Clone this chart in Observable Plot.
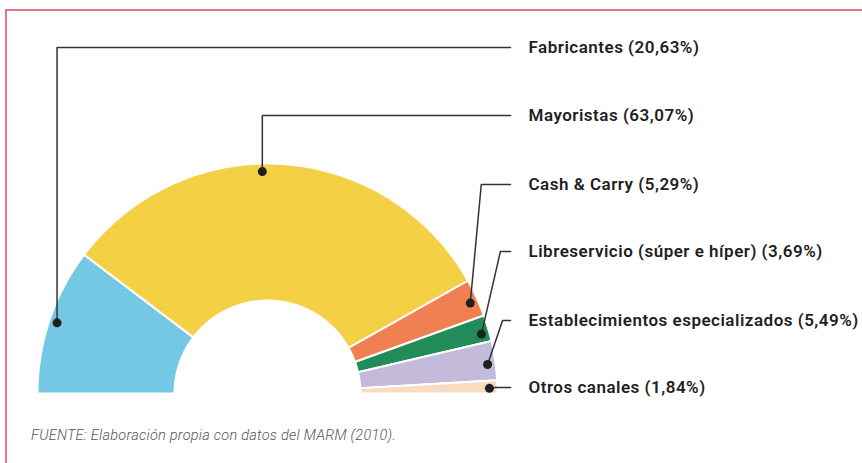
<!DOCTYPE html>
<html>
<head>
<meta charset="utf-8">
<script src="https://cdn.jsdelivr.net/npm/d3@7"></script>
<script src="https://cdn.jsdelivr.net/npm/@observablehq/plot@0.6"></script>
<style>
  html, body { margin: 0; padding: 0; background: #fff; overflow: hidden; }
  #wrap { position: relative; width: 862px; height: 463px; }
  #frame { position: absolute; left: 5px; top: 9px; width: 900px; height: 500px; border: 2px solid #E07984; box-sizing: border-box; pointer-events: none; }
  #caption { position: absolute; left: 31px; top: 427px; font-family: Roboto, sans-serif; font-style: italic; font-weight: 300; font-size: 14.5px; letter-spacing: 0.25px; color: #555; white-space: nowrap; }
</style>
</head>
<body>
<div id="wrap">
  <div id="chart"></div>
  <div id="frame"></div>
  <div id="caption">FUENTE: Elaboración propia con datos del MARM (2010).</div>
</div>
<script>
// ---- data ----
const categories = ["Fabricantes", "Mayoristas", "Cash & Carry", "Libreservicio (súper e híper)", "Establecimientos especializados", "Otros canales"];
const shares = [20.63, 63.07, 5.29, 3.69, 5.49, 1.84];
const colors = ["#75C8E4", "#F4D044", "#F08052", "#228B5A", "#C4BBDB", "#F7DCC1"];

// ---- layout (pixels) ----
const W = 862, H = 463;
const CX = 267, CY = 393, R = 230, R0 = 93;
const labelYpx = [47, 115, 184, 251, 320, 387];
const elbowDxPx = [0, 0, 11, 19, 15, 0];
const dotFrac = [0.5, 0.454, 0.56, 0.65, 0.575, 0.6];
const lineEndXpx = 510, labelXpx = 528, dotRpx = 222;

const total = d3.sum(shares);
const toDX = px => (px - CX) / R;   // pixel -> data units
const toDY = py => (CY - py) / R;
const rIn = R0 / R, rDot = dotRpx / R;

// slice polygons
const slices = [];
let cum = 0;
shares.forEach((v, i) => {
  const a0 = Math.PI - Math.PI * cum / total;
  cum += v;
  const a1 = Math.PI - Math.PI * cum / total;
  const n = Math.max(2, Math.ceil(Math.abs(a0 - a1) / (Math.PI / 360)));
  const pts = [];
  for (let k = 0; k <= n; k++) { const a = a0 + (a1 - a0) * k / n; pts.push({x: Math.cos(a), y: Math.sin(a)}); }
  for (let k = n; k >= 0; k--) { const a = a0 + (a1 - a0) * k / n; pts.push({x: rIn * Math.cos(a), y: rIn * Math.sin(a)}); }
  pts.push(pts[0]);
  const mid = a0 + (a1 - a0) * dotFrac[i];
  slices.push({cat: categories[i], value: v, color: colors[i], pts, mid,
    dot: {x: rDot * Math.cos(mid), y: rDot * Math.sin(mid)}});
});

const fmt = v => v.toFixed(2).replace(".", ",") + "%";

const leaders = slices.map((s, i) => {
  const ly = toDY(labelYpx[i]);
  const ex = s.dot.x + elbowDxPx[i] / R;
  return [s.dot, {x: ex, y: ly}, {x: toDX(lineEndXpx), y: ly}];
});

const labels = slices.map((s, i) => ({x: toDX(labelXpx), y: toDY(labelYpx[i]), text: `${s.cat} (${fmt(s.value)})`}));

const marks = [];
slices.forEach(s => marks.push(Plot.line(s.pts, {x: "x", y: "y", fill: s.color, stroke: "white", strokeWidth: 2, curve: "linear"})));
leaders.forEach(l => marks.push(Plot.line(l, {x: "x", y: "y", stroke: "#333", strokeWidth: 1.5, curve: "linear"})));
marks.push(Plot.dot(slices.map(s => s.dot), {x: "x", y: "y", r: 4.5, fill: "#1f1f1f", stroke: "none"}));
marks.push(Plot.text(labels, {x: "x", y: "y", text: "text", textAnchor: "start", fontSize: 17, fontWeight: 600, fill: "#1f1f1f", fontFamily: "Roboto, sans-serif", style: "letter-spacing:0.5px"}));

const plot = Plot.plot({
  width: W, height: H,
  margin: 0, marginTop: 0, marginRight: 0, marginBottom: 0, marginLeft: 0,
  x: {domain: [toDX(0), toDX(W)], range: [0, W], axis: null},
  y: {domain: [toDY(H), toDY(0)], range: [H, 0], axis: null},
  style: {background: "transparent", overflow: "visible"},
  marks
});
plot.querySelectorAll("text").forEach(t => t.style.letterSpacing = "0.5px");
document.getElementById("chart").appendChild(plot);
</script>
</body>
</html>
